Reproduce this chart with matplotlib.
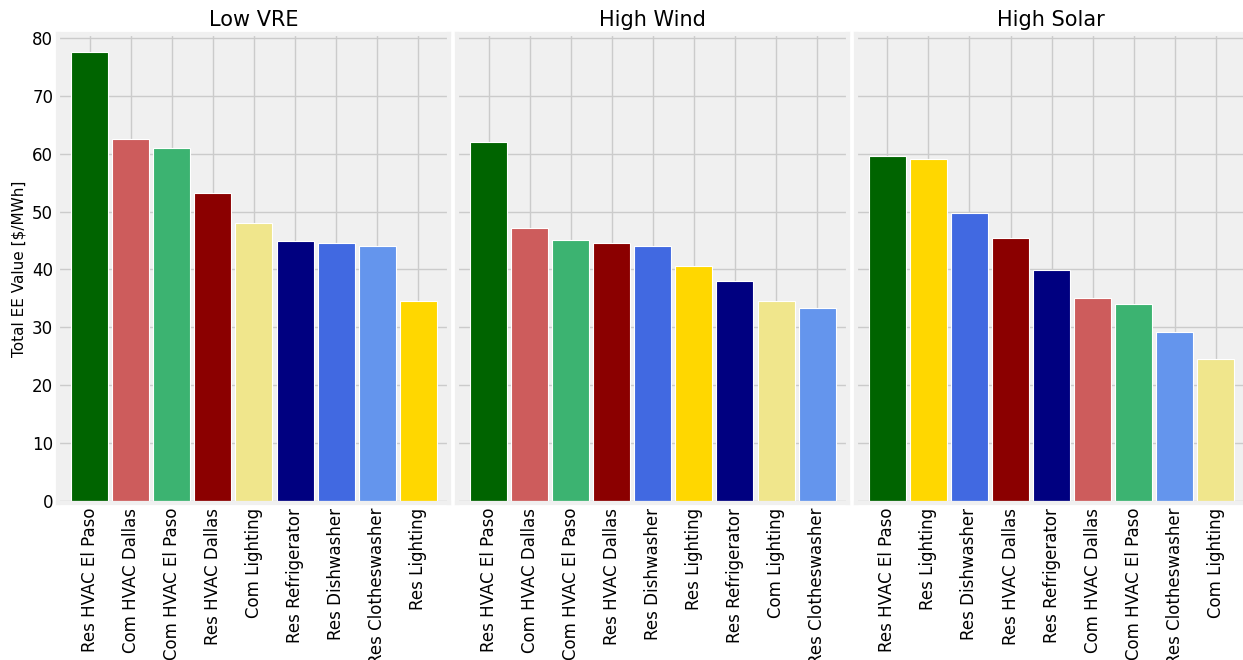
import matplotlib
matplotlib.use("Agg")
import matplotlib.pyplot as plt

scenarios = ["Low VRE", "High Wind", "High Solar"]

low_vre_labels = ["Res HVAC El Paso", "Com HVAC Dallas", "Com HVAC El Paso", "Res HVAC Dallas",
                  "Com Lighting", "Res Refrigerator", "Res Dishwasher", "Res Clotheswasher",
                  "Res Lighting"]
low_vre_values = [77.5, 62.6, 61.0, 53.2, 48.0, 44.9, 44.5, 44.1, 34.6]

high_wind_labels = ["Res HVAC El Paso", "Com HVAC Dallas", "Com HVAC El Paso", "Res HVAC Dallas",
                    "Res Dishwasher", "Res Lighting", "Res Refrigerator", "Com Lighting",
                    "Res Clotheswasher"]
high_wind_values = [62.0, 47.1, 45.1, 44.5, 44.1, 40.6, 38.0, 34.6, 33.4]

high_solar_labels = ["Res HVAC El Paso", "Res Lighting", "Res Dishwasher", "Res HVAC Dallas",
                     "Res Refrigerator", "Com HVAC Dallas", "Com HVAC El Paso",
                     "Res Clotheswasher", "Com Lighting"]
high_solar_values = [59.6, 59.0, 49.7, 45.5, 39.9, 35.0, 34.0, 29.2, 24.5]

colors = {
    "Res HVAC El Paso": "darkgreen",
    "Com HVAC Dallas": "indianred",
    "Com HVAC El Paso": "mediumseagreen",
    "Res HVAC Dallas": "darkred",
    "Com Lighting": "khaki",
    "Res Refrigerator": "navy",
    "Res Dishwasher": "royalblue",
    "Res Clotheswasher": "cornflowerblue",
    "Res Lighting": "gold",
}

plt.style.use("fivethirtyeight")
plt.rcParams['font.family'] = ['DejaVu Sans']

fig, axes = plt.subplots(1, 3, sharey=True, figsize=(12.43, 6.6), dpi=100)
fig.patch.set_facecolor("white")
fig.subplots_adjust(left=0.0467, right=1.003, top=0.948, bottom=0.238, wspace=0.02)

data = [(low_vre_labels, low_vre_values), (high_wind_labels, high_wind_values),
        (high_solar_labels, high_solar_values)]

for ax, title, (labels, values) in zip(axes, scenarios, data):
    x = range(len(labels))
    ax.bar(x, values, width=0.9, color=[colors[l] for l in labels],
           edgecolor="white", linewidth=0.8)
    ax.set_xticks(list(x))
    ax.set_xticklabels(labels, rotation=90, fontsize=12)
    ax.set_title(title, fontsize=15)
    ax.set_xlim(-0.77, len(labels) - 0.25)
    ax.tick_params(axis="y", labelsize=12)

axes[0].set_ylim(-0.3, 80.6)
axes[0].set_yticks(range(0, 81, 10))
axes[0].set_ylabel("Total EE Value [$/MWh]", fontsize=11)

plt.savefig("out.png", dpi=100, facecolor="white")
